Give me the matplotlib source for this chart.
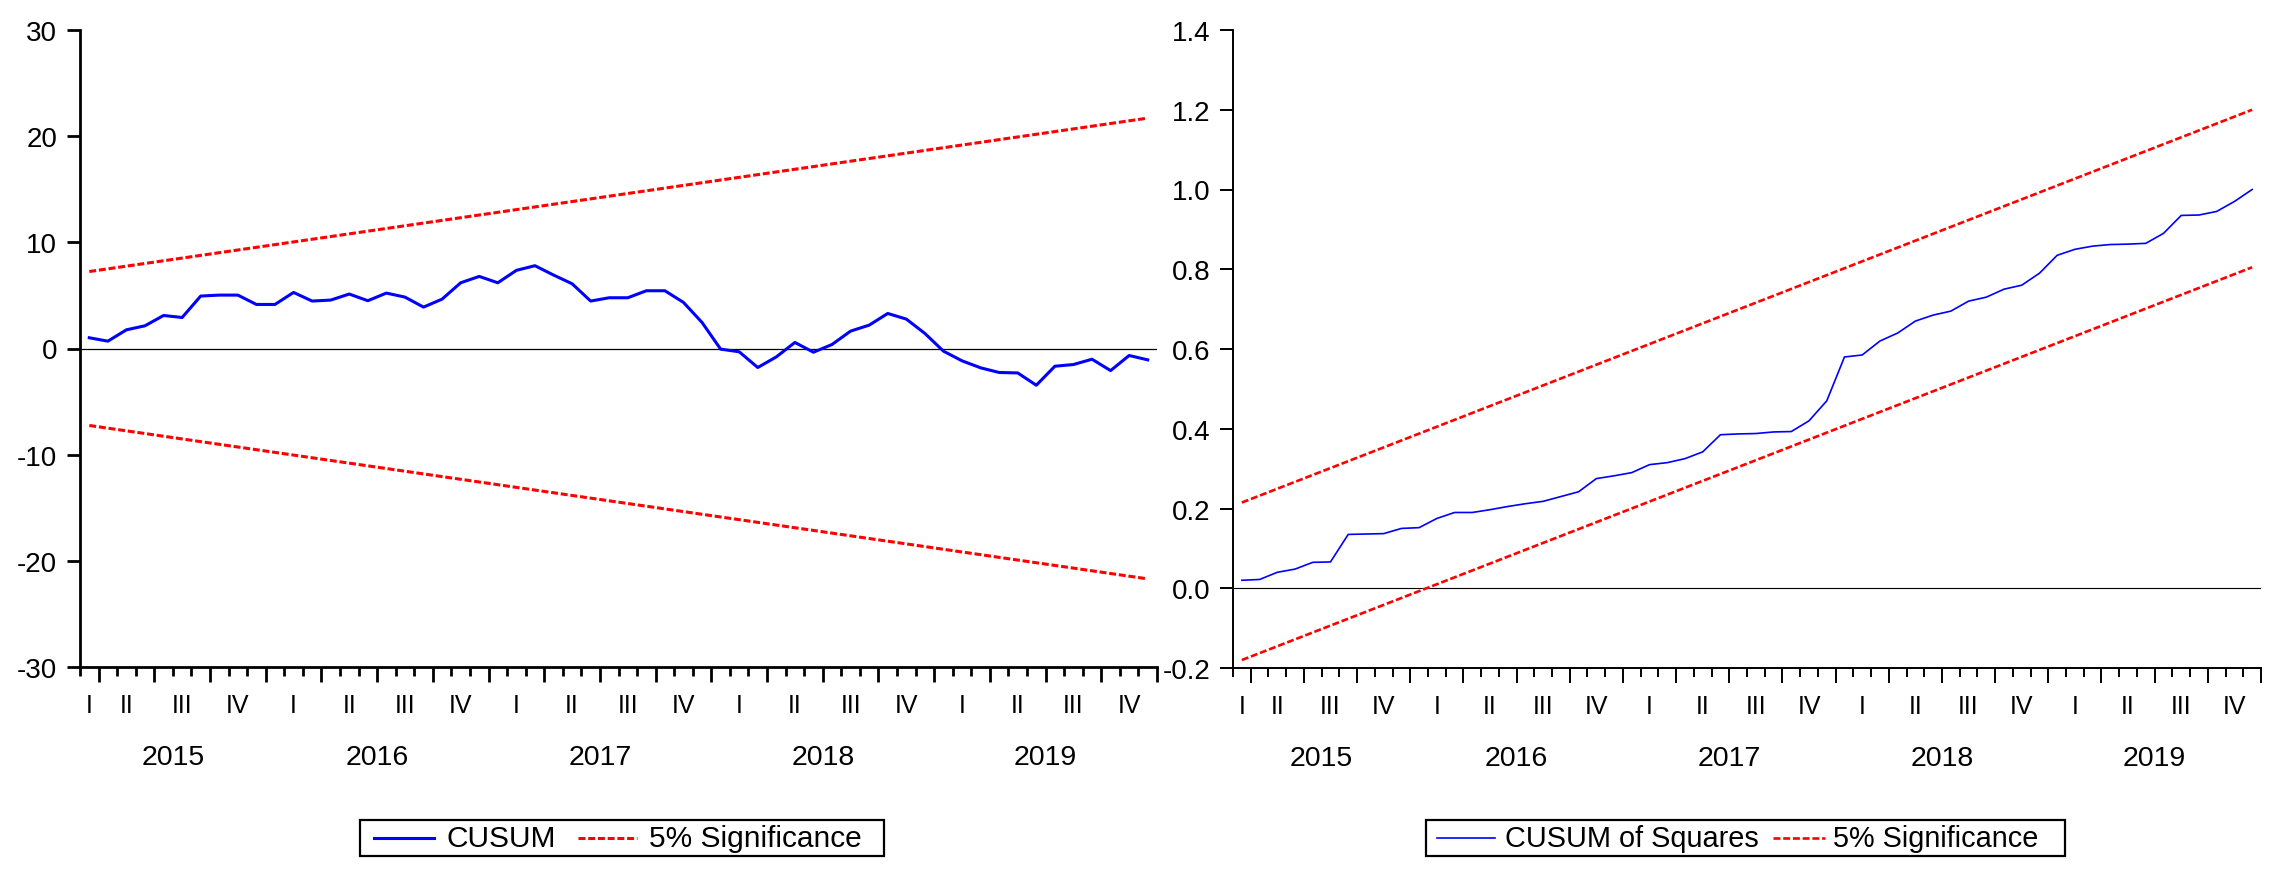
import matplotlib
matplotlib.use("Agg")
import matplotlib.pyplot as plt
from matplotlib.lines import Line2D
from matplotlib.patches import Rectangle
import numpy as np

plt.rcParams['font.family'] = ['Liberation Sans', 'DejaVu Sans']
plt.rcParams['lines.scale_dashes'] = False

W, H, DPI = 2275, 879, 100

# ---- data (monthly, 2015M03 .. 2019M12) ----
years = [2015, 2016, 2017, 2018, 2019]
quarters = ["I", "II", "III", "IV"]
first_month = 3

cusum = [
    1.01, 0.69, 1.76, 2.14, 3.11, 2.92, 4.94, 5.03, 5.03, 4.15,
    4.15, 5.28, 4.47, 4.56, 5.13, 4.50, 5.22, 4.84, 3.90, 4.65,
    6.19, 6.79, 6.19, 7.36, 7.80, 6.92, 6.10, 4.47, 4.78, 4.78,
    5.44, 5.44, 4.34, 2.45, -0.06, -0.31, -1.79, -0.79, 0.57, -0.35,
    0.38, 1.64, 2.20, 3.30, 2.77, 1.42, -0.25, -1.16, -1.82, -2.26,
    -2.30, -3.46, -1.67, -1.51, -1.01, -2.08, -0.66, -1.07,
]
cusum_band = [7.25, 21.7]       # +/- 5% band at first and last observation

cusum_sq = [
    0.020, 0.022, 0.040, 0.048, 0.065, 0.066, 0.135, 0.136, 0.137, 0.150,
    0.152, 0.175, 0.190, 0.190, 0.197, 0.205, 0.212, 0.218, 0.230, 0.242,
    0.275, 0.282, 0.290, 0.310, 0.315, 0.325, 0.342, 0.385, 0.387, 0.388,
    0.392, 0.393, 0.420, 0.470, 0.580, 0.585, 0.620, 0.640, 0.670, 0.685,
    0.695, 0.720, 0.730, 0.750, 0.760, 0.790, 0.835, 0.850, 0.858, 0.862,
    0.863, 0.865, 0.890, 0.935, 0.936, 0.945, 0.970, 1.000,
]
sq_upper = [0.215, 1.20]
sq_lower = [-0.18, 0.805]

n = len(cusum)
obs = np.arange(n) + 0.5
ends = [obs[0], obs[-1]]

# calendar position of every slot
months = [(years[0] + (first_month - 1 + i) // 12, (first_month - 1 + i) % 12 + 1) for i in range(n)]


def px(x, y):
    return x / W, 1 - y / H


def decorate(ax, lw, ylim, yticks, fmt):
    ax.set_xlim(0, n)
    ax.set_ylim(*ylim)
    for s in ["top", "right"]:
        ax.spines[s].set_visible(False)
    for s in ["left", "bottom"]:
        ax.spines[s].set_linewidth(lw)
    ax.set_yticks(yticks)
    ax.set_yticklabels([fmt.format(v) for v in yticks])
    ax.tick_params(axis="y", direction="out", length=9.4, width=lw, pad=7, labelsize=20)

    # quarter boundaries get the long ticks
    major = [i for i in range(n + 1) if i == n or (months[i][1] - 1) % 3 == 0]
    ax.set_xticks(major)
    ax.set_xticks(range(n + 1), minor=True)
    ax.tick_params(axis="x", which="major", direction="out", length=11, width=lw, labelbottom=False)
    ax.tick_params(axis="x", which="minor", direction="out", length=6.8, width=lw)

    # quarter labels, centred on the months of each quarter in the sample
    for y in years:
        for q, qlab in enumerate(quarters):
            idx = [i for i, (yy, mm) in enumerate(months) if yy == y and (mm - 1) // 3 == q]
            if not idx:
                continue
            xc = (idx[0] + idx[-1] + 1) / 2
            ax.annotate(qlab, xy=(xc, 0), xycoords=("data", "axes fraction"),
                        xytext=(0, -38), textcoords="offset pixels",
                        ha="center", va="center", fontsize=18)
        idx = [i for i, (yy, mm) in enumerate(months) if yy == y]
        xc = (idx[0] + idx[-1] + 1) / 2
        ax.annotate(str(y), xy=(xc, 0), xycoords=("data", "axes fraction"),
                    xytext=(0, -90), textcoords="offset pixels",
                    ha="center", va="center", fontsize=20.5)


def legend_box(fig, box, items, size):
    x0, y0, x1, y1 = box
    fx0, fy1 = px(x0, y0)
    fx1, fy0 = px(x1, y1)
    fig.patches.append(Rectangle((fx0, fy0), fx1 - fx0, fy1 - fy0, transform=fig.transFigure,
                                 fill=False, edgecolor="black", linewidth=1.6))
    yc = (y0 + y1) / 2
    for (hx0, hx1, tx, label, style) in items:
        a, b = px(hx0, yc)
        c, _ = px(hx1, yc)
        fig.lines.append(Line2D([a, c], [b, b], transform=fig.transFigure, **style))
        fig.text(tx / W, b, label, ha="left", va="center", fontsize=size)


fig = plt.figure(figsize=(W / DPI, H / DPI), dpi=DPI)

# ---- left: CUSUM ----
ax1 = fig.add_axes([80 / W, 1 - 668 / H, (1157 - 80) / W, (668 - 31) / H])
decorate(ax1, 2.0, (-30, 30), [30, 20, 10, 0, -10, -20, -30], "{:.0f}")
ax1.axhline(0, color="black", linewidth=0.9, zorder=1)
ax1.plot(ends, cusum_band, color="red", linewidth=2.2, dashes=(5, 2))
ax1.plot(ends, [-v for v in cusum_band], color="red", linewidth=2.2, dashes=(5, 2))
ax1.plot(obs, cusum, color="blue", linewidth=2.2)

# ---- right: CUSUM of squares ----
ax2 = fig.add_axes([1233 / W, 1 - 669 / H, (2261 - 1233) / W, (669 - 31) / H])
decorate(ax2, 1.4, (-0.2, 1.4), [1.4, 1.2, 1.0, 0.8, 0.6, 0.4, 0.2, 0.0, -0.2], "{:.1f}")
ax2.axhline(0, color="black", linewidth=0.8, zorder=1)
ax2.plot(ends, sq_upper, color="red", linewidth=1.9, dashes=(5, 2))
ax2.plot(ends, sq_lower, color="red", linewidth=1.9, dashes=(5, 2))
ax2.plot(obs, cusum_sq, color="blue", linewidth=1.2)

legend_box(fig, (360, 821, 884, 857), [
    (374, 434, 447, "CUSUM", dict(color="blue", linewidth=2.2)),
    (578, 637, 649, "5% Significance", dict(color="red", linewidth=2.2, dashes=(5, 2))),
], 21.5)
legend_box(fig, (1426, 821, 2065, 857), [
    (1437, 1495, 1505, "CUSUM of Squares", dict(color="blue", linewidth=1.2)),
    (1773, 1825, 1833, "5% Significance", dict(color="red", linewidth=1.9, dashes=(5, 2))),
], 20.8)

fig.savefig("out.png", dpi=DPI)
